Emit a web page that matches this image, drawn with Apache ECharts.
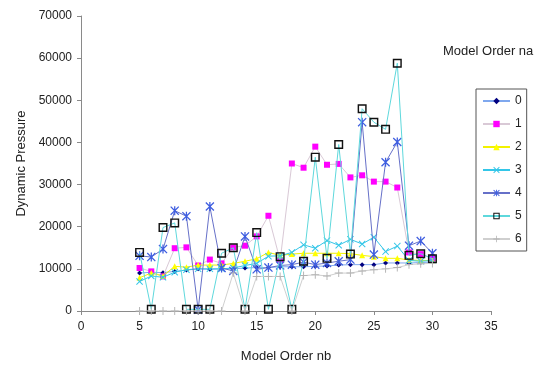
<!DOCTYPE html>
<html>
<head>
<meta charset="utf-8">
<script src="https://cdn.jsdelivr.net/npm/echarts@6/dist/echarts.min.js"></script>
<style>
html,body{margin:0;padding:0;background:#fff;}
#chart{width:538px;height:368px;}
</style>
</head>
<body>
<div id="chart"></div>
<script>
// Model order nb (x values)
var nb = [5,6,7,8,9,10,11,12,13,14,15,16,17,18,19,20,21,22,23,24,25,26,27,28,29,30];
var seriesNames = ['0','1','2','3','4','5','6'];
var na0 = [9000,9200,9100,9400,9700,10000,9900,10000,10000,10200,10300,10300,10500,10500,10500,10600,10700,10900,11000,11000,11000,11400,11400,11400,11500,11600];
var na1 = [10200,9400,8200,14900,15100,10800,12200,11300,15100,15500,17700,22600,12000,35000,34000,39000,34700,34900,31700,32200,30700,30700,29300,13900,13500,12500];
var na2 = [7900,9000,8300,10600,10400,10900,10900,10900,11300,11800,12400,13900,13200,13500,13700,13700,13700,13700,13600,13200,12900,12500,12500,12100,12000,12000];
var na3 = [7000,8300,8000,9200,9800,10000,10000,10000,10200,10800,11300,13000,13100,13900,15700,14900,16700,15600,17000,15900,17500,14100,15400,12000,11800,12000];
var na4 = [13100,12800,14700,23800,22500,300,24800,10200,9500,17700,9900,10300,10800,11000,11600,11000,11400,11800,12200,44800,13400,35300,40100,15500,16600,13700];
var na5 = [13900,400,19800,20900,400,400,400,13700,15000,400,18600,400,12900,400,11800,36500,12500,39500,13500,48000,44800,43100,58800,13200,13600,12400];
var na6 = [0,0,0,0,0,0,0,0,9000,0,8200,8200,8200,0,8400,8600,8300,9000,9000,9500,9800,10000,10300,11000,11200,11300];
var xTicks = [0,5,10,15,20,25,30,35];
var yTicks = [0,10000,20000,30000,40000,50000,60000,70000];

var allValues = [na0,na1,na2,na3,na4,na5,na6];

var symX = 'path://M0,1L1,0L5,4L9,0L10,1L6,5L10,9L9,10L5,6L1,10L0,9L4,5Z';
var symStar = 'path://M0,1L1,0L5,4L9,0L10,1L6,5L10,9L9,10L5,6L1,10L0,9L4,5Z M4.3,0L5.7,0L5.7,10L4.3,10Z';
var symPlus = 'path://M4.4,0L5.6,0L5.6,4.4L10,4.4L10,5.6L5.6,5.6L5.6,10L4.4,10L4.4,5.6L0,5.6L0,4.4L4.4,4.4Z';
var symBox = 'path://M0,0L10,0L10,10L0,10Z M1.6,1.6L1.6,8.4L8.4,8.4L8.4,1.6Z';

var styles = [
  {symbol:'diamond', size:5, color:'#000080', line:'#7fa8ee'},
  {symbol:'rect', size:6, color:'#ff00ff', line:'#d9c9d6'},
  {symbol:'triangle', size:6, color:'#ffff00', line:'#f2f200'},
  {symbol:symX, size:7, color:'#33c6e8', line:'#33c6e8'},
  {symbol:symStar, size:9, color:'#3f5ee0', line:'#6670c8'},
  {symbol:symBox, size:9, color:'#111111', line:'#5ed8dc'},
  {symbol:symPlus, size:8, color:'#b4b4b4', line:'#cfcfcf'}
];

var series = allValues.map(function(vals, i){
  var st = styles[i];
  return {
    name: seriesNames[i],
    type: 'line',
    data: nb.map(function(x, k){ return [x, vals[k]]; }),
    symbol: st.symbol,
    symbolSize: st.size,
    showAllSymbol: true,
    lineStyle: {color: st.line, width: 1},
    itemStyle: {color: st.color},
    emphasis: {disabled: true},
    animation: false,
    z: 2 + i
  };
});

var chart = echarts.init(document.getElementById('chart'), null, {renderer:'canvas'});
chart.setOption({
  backgroundColor: '#ffffff',
  animation: false,
  textStyle: {fontFamily: 'Liberation Sans, Arial, sans-serif'},
  grid: {left: 81, right: 47, top: 16, bottom: 52, containLabel: false},
  xAxis: {
    type: 'value',
    min: xTicks[0], max: xTicks[xTicks.length-1], interval: 5,
    name: 'Model Order nb', nameLocation: 'middle', nameGap: 39,
    nameTextStyle: {fontSize: 13, color: '#222'},
    axisLine: {lineStyle: {color: '#8a8a8a', width: 1}},
    axisTick: {show: true, inside: false, length: 4, lineStyle: {color: '#8a8a8a'}},
    axisLabel: {fontSize: 12, color: '#222', margin: 10},
    splitLine: {show: false}
  },
  yAxis: {
    type: 'value',
    min: yTicks[0], max: yTicks[yTicks.length-1], interval: 10000,
    name: 'Dynamic Pressure', nameLocation: 'middle', nameGap: 53,
    nameTextStyle: {fontSize: 13, color: '#222'},
    axisLine: {show: true, lineStyle: {color: '#8a8a8a', width: 1}},
    axisTick: {show: true, inside: false, length: 4, lineStyle: {color: '#8a8a8a'}},
    axisLabel: {fontSize: 12, color: '#222', margin: 9, formatter: function(v){ return String(v); }},
    splitLine: {show: false}
  },
  legend: {
    orient: 'vertical',
    left: 476, top: 89,
    itemWidth: 27, itemHeight: 8, itemGap: 11,
    padding: [6, 5, 6, 6],
    borderColor: '#555', borderWidth: 1,
    textStyle: {fontSize: 12, color: '#222'},
    data: seriesNames
  },
  graphic: [{
    type: 'text', left: 443, top: 45,
    style: {text: 'Model Order na', fontSize: 13, fill: '#222', fontFamily: 'Liberation Sans, Arial, sans-serif'}
  }],
  series: series
});
</script>
</body>
</html>
